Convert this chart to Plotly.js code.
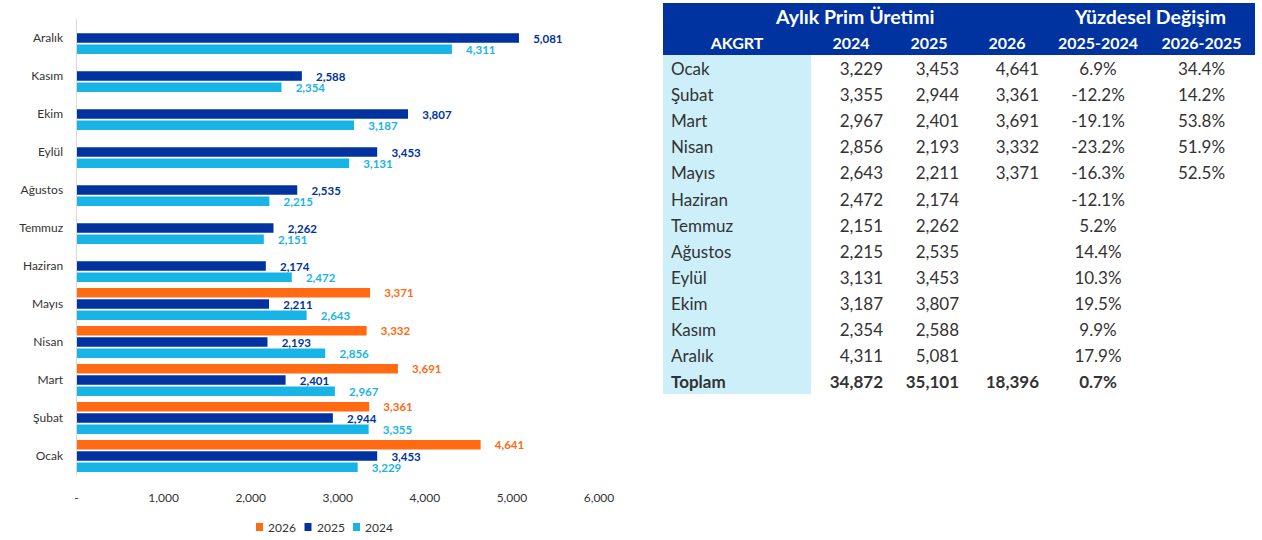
<!DOCTYPE html>
<html>
<head>
<meta charset="utf-8">
<script src="https://cdn.plot.ly/plotly-3.0.1.min.js"></script>
<style>
  html, body { margin: 0; padding: 0; background: #ffffff; }
  #chart { width: 1262px; height: 540px; }
</style>
</head>
<body>
<div id="chart"></div>
<script>
// ---------- DATA ----------
const months = ['Ocak', 'Şubat', 'Mart', 'Nisan', 'Mayıs', 'Haziran', 'Temmuz', 'Ağustos', 'Eylül', 'Ekim', 'Kasım', 'Aralık'];
const values2024 = [3229, 3355, 2967, 2856, 2643, 2472, 2151, 2215, 3131, 3187, 2354, 4311];
const values2025 = [3453, 2944, 2401, 2193, 2211, 2174, 2262, 2535, 3453, 3807, 2588, 5081];
const values2026 = [4641, 3361, 3691, 3332, 3371, null, null, null, null, null, null, null];
const change2025vs2024 = [6.9, -12.2, -19.1, -23.2, -16.3, -12.1, 5.2, 14.4, 10.3, 19.5, 9.9, 17.9];
const change2026vs2025 = [34.4, 14.2, 53.8, 51.9, 52.5, null, null, null, null, null, null, null];
const totalLabel = 'Toplam';
const totals = [34872, 35101, 18396];
const totalChange2025vs2024 = 0.7;
const seriesNames = ['2024', '2025', '2026'];
const legendOrder = ['2026', '2025', '2024'];
const xTickVals = [0, 1000, 2000, 3000, 4000, 5000, 6000];
const xTickText = ['-', '1,000', '2,000', '3,000', '4,000', '5,000', '6,000'];
const tableHeaderGroups = ['Aylık Prim Üretimi', 'Yüzdesel Değişim'];
const tableHeaders = ['AKGRT', '2024', '2025', '2026', '2025-2024', '2026-2025'];

// ---------- STYLE ----------
const W = 1262, H = 540;
const FONT = 'Lato, "Open Sans", "Noto Sans", sans-serif';
const TXT = '#333333';
const COLORS = { '2024': '#19B4E6', '2025': '#0033A0', '2026': '#FF6A13' };
const HEAD = '#0033A0', FIRSTCOL = '#CDEFFA';
const px = v => v / W, py = v => 1 - v / H;

function fmtNum(v) { return v == null ? '' : v.toLocaleString('en-US'); }
function fmtPct(v) { return v == null ? '' : v.toFixed(1) + '%'; }
const pad = '\u00a0\u00a0\u00a0\u00a0';

function barTrace(name, vals) {
  const color = COLORS[name];
  return {
    type: 'bar', orientation: 'h', name: name,
    y: months, x: vals,
    marker: { color: color },
    texttemplate: pad + '%{x:,}',
    textposition: 'outside',
    constraintext: 'none',
    cliponaxis: false,
    textfont: { family: FONT, size: 11.5, color: color, weight: 'bold' },
    hoverinfo: 'x+name',
    showlegend: false,
    xaxis: 'x', yaxis: 'y'
  };
}

const bars = [
  barTrace(seriesNames[0], values2024),
  barTrace(seriesNames[1], values2025),
  barTrace(seriesNames[2], values2026)
];

// ---------- TABLE ----------
const colMonths = months.concat([totalLabel]);
const col2024 = values2024.map(fmtNum).concat([fmtNum(totals[0])]);
const col2025 = values2025.map(fmtNum).concat([fmtNum(totals[1])]);
const col2026 = values2026.map(fmtNum).concat([fmtNum(totals[2])]);
const colCh1 = change2025vs2024.map(fmtPct).concat([fmtPct(totalChange2025vs2024)]);
const colCh2 = change2026vs2025.map(fmtPct).concat(['']);
const nRows = colMonths.length;
const fillCol = c => Array(nRows).fill(c);
const weightCol = colMonths.map((_, i) => i === nRows - 1 ? 'bold' : 'normal');

const table = {
  type: 'table',
  domain: { x: [px(663), px(1254)], y: [0, py(3)] },
  columnwidth: [148, 80, 76, 80, 102, 105],
  header: {
    values: tableHeaders.map(h => ['', h]),
    align: 'center',
    height: 25.7,
    fill: { color: HEAD },
    line: { color: HEAD, width: 1 },
    font: { family: FONT, size: 16, color: '#ffffff', weight: 'bold' }
  },
  cells: {
    values: [colMonths, col2024, col2025, col2026, colCh1, colCh2],
    align: ['left', 'right', 'right', 'right', 'center', 'center'],
    height: 26.08,
    fill: { color: [fillCol(FIRSTCOL), fillCol('#ffffff'), fillCol('#ffffff'), fillCol('#ffffff'), fillCol('#ffffff'), fillCol('#ffffff')] },
    line: { color: [FIRSTCOL, '#ffffff', '#ffffff', '#ffffff', '#ffffff', '#ffffff'], width: 1 },
    font: { family: FONT, size: 17, color: TXT,
            weight: [weightCol, weightCol, weightCol, weightCol, weightCol, weightCol] }
  },
  hoverinfo: 'skip'
};

// ---------- LEGEND (custom, compact like the original) ----------
const legendStartX = 256, legendStride = 48.5, legendY = 527, sq = 7;
const legendShapes = legendOrder.map((name, i) => ({
  type: 'rect', xref: 'paper', yref: 'paper',
  x0: px(legendStartX + i * legendStride), x1: px(legendStartX + i * legendStride + sq),
  y0: py(legendY + sq / 2 + 0.5), y1: py(legendY - sq / 2 - 0.5),
  fillcolor: COLORS[name], line: { width: 0 }
}));
const legendAnns = legendOrder.map((name, i) => ({
  xref: 'paper', yref: 'paper',
  x: px(legendStartX + i * legendStride + sq + 3), y: py(legendY),
  xanchor: 'left', yanchor: 'middle', showarrow: false,
  text: name, font: { family: FONT, size: 12, color: TXT }
}));

const layout = {
  width: W, height: H,
  margin: { l: 0, r: 0, t: 0, b: 0 },
  paper_bgcolor: '#ffffff', plot_bgcolor: '#ffffff',
  barmode: 'group',
  bargap: 0.12,
  bargroupgap: 0.15,
  showlegend: false,
  xaxis: {
    domain: [px(76.5), px(599)],
    range: [0, 6000],
    tickvals: xTickVals, ticktext: xTickText,
    showgrid: false, zeroline: false, showline: false,
    ticks: 'outside', ticklen: 12, tickcolor: 'rgba(0,0,0,0)',
    tickfont: { family: FONT, size: 12, color: TXT },
    fixedrange: true
  },
  yaxis: {
    domain: [py(475), py(19)],
    type: 'category',
    categoryorder: 'array', categoryarray: months,
    showgrid: false, zeroline: false,
    showline: true, linecolor: '#D9D9D9', linewidth: 1,
    ticks: 'outside', ticklen: 10, tickcolor: 'rgba(0,0,0,0)',
    tickfont: { family: FONT, size: 12, color: TXT },
    fixedrange: true
  },
  shapes: legendShapes,
  annotations: [
    { xref: 'paper', yref: 'paper', x: px(855), y: py(17), xanchor: 'center', yanchor: 'middle',
      text: tableHeaderGroups[0], showarrow: false,
      font: { family: FONT, size: 19.5, color: '#ffffff', weight: 'bold' } },
    { xref: 'paper', yref: 'paper', x: px(1150), y: py(17), xanchor: 'center', yanchor: 'middle',
      text: tableHeaderGroups[1], showarrow: false,
      font: { family: FONT, size: 19.5, color: '#ffffff', weight: 'bold' } }
  ].concat(legendAnns)
};

Plotly.newPlot('chart', bars.concat([table]), layout, { displayModeBar: false });
</script>
</body>
</html>
